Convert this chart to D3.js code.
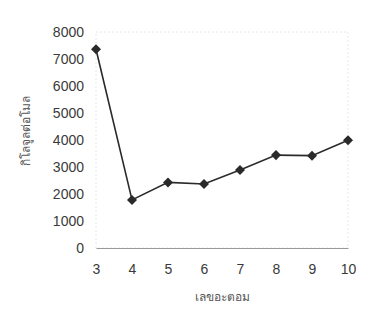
<!DOCTYPE html>
<html>
<head>
<meta charset="utf-8">
<script src="https://cdn.jsdelivr.net/npm/d3@7"></script>
<style>
  body { margin: 0; background: #fff; }
  svg text { font-family: "Liberation Sans", Arial, sans-serif; }
</style>
</head>
<body>
<div id="root"></div>
<script>
// data
const atomicNumbers = [3, 4, 5, 6, 7, 8, 9, 10];
const ionEnergy = [7360, 1780, 2430, 2370, 2890, 3440, 3420, 3990];
const yTicks = [0, 1000, 2000, 3000, 4000, 5000, 6000, 7000, 8000];
const xTitle = 'เลขอะตอม';
const yTitle = 'กิโลจูลต่อโมล';

const w = 389, h = 317;
const plotL = 96, plotR = 348, plotT = 32, plotB = 248;

const svg = d3.select('#root').append('svg')
    .attr('width', w)
    .attr('height', h);

const x = d3.scaleLinear().domain([3, 10]).range([plotL, plotR]);
const y = d3.scaleLinear().domain([0, 8000]).range([plotB, plotT]);

// faint plot frame
svg.append('rect')
    .attr('x', plotL).attr('y', plotT)
    .attr('width', plotR - plotL).attr('height', plotB - plotT)
    .attr('fill', 'none')
    .attr('stroke', '#e2e2e2')
    .attr('stroke-dasharray', '2,2')
    .attr('stroke-width', 0.8);

// y axis - labels only
const yAxis = d3.axisLeft(y).tickValues(yTicks).tickFormat(d3.format('d')).tickSize(0).tickPadding(12);
const gy = svg.append('g').attr('transform', `translate(${plotL},0)`).call(yAxis);
gy.select('.domain').remove();
gy.selectAll('text').style('font-size', '14px').attr('fill', '#3a3a3a');

// x axis
const xAxis = d3.axisBottom(x).tickValues(atomicNumbers).tickFormat(d3.format('d')).tickSize(0).tickPadding(16);
const gx = svg.append('g').attr('transform', `translate(0,${plotB})`).call(xAxis);
gx.select('.domain').attr('stroke', '#999').attr('stroke-width', 1);
gx.selectAll('text').style('font-size', '14px').attr('fill', '#3a3a3a');

// line + markers
const line = d3.line()
    .x((d, i) => x(atomicNumbers[i]))
    .y(d => y(d));

svg.append('path')
    .datum(ionEnergy)
    .attr('d', line)
    .attr('fill', 'none')
    .attr('stroke', '#2a2a2a')
    .attr('stroke-width', 1.6);

svg.selectAll('.pt')
    .data(ionEnergy)
    .enter()
    .append('path')
    .attr('class', 'pt')
    .attr('d', d3.symbol(d3.symbolDiamond2, 64))
    .attr('transform', (d, i) => `translate(${x(atomicNumbers[i])},${y(d)})`)
    .attr('fill', '#2a2a2a');

// titles
svg.append('text')
    .attr('x', 222).attr('y', 301)
    .attr('text-anchor', 'middle')
    .style('font-size', '12px')
    .attr('fill', '#555')
    .text(xTitle);

svg.append('text')
    .attr('text-anchor', 'middle')
    .attr('transform', 'translate(30,131)rotate(-90)')
    .style('font-size', '12px')
    .attr('fill', '#555')
    .text(yTitle);
</script>
</body>
</html>
